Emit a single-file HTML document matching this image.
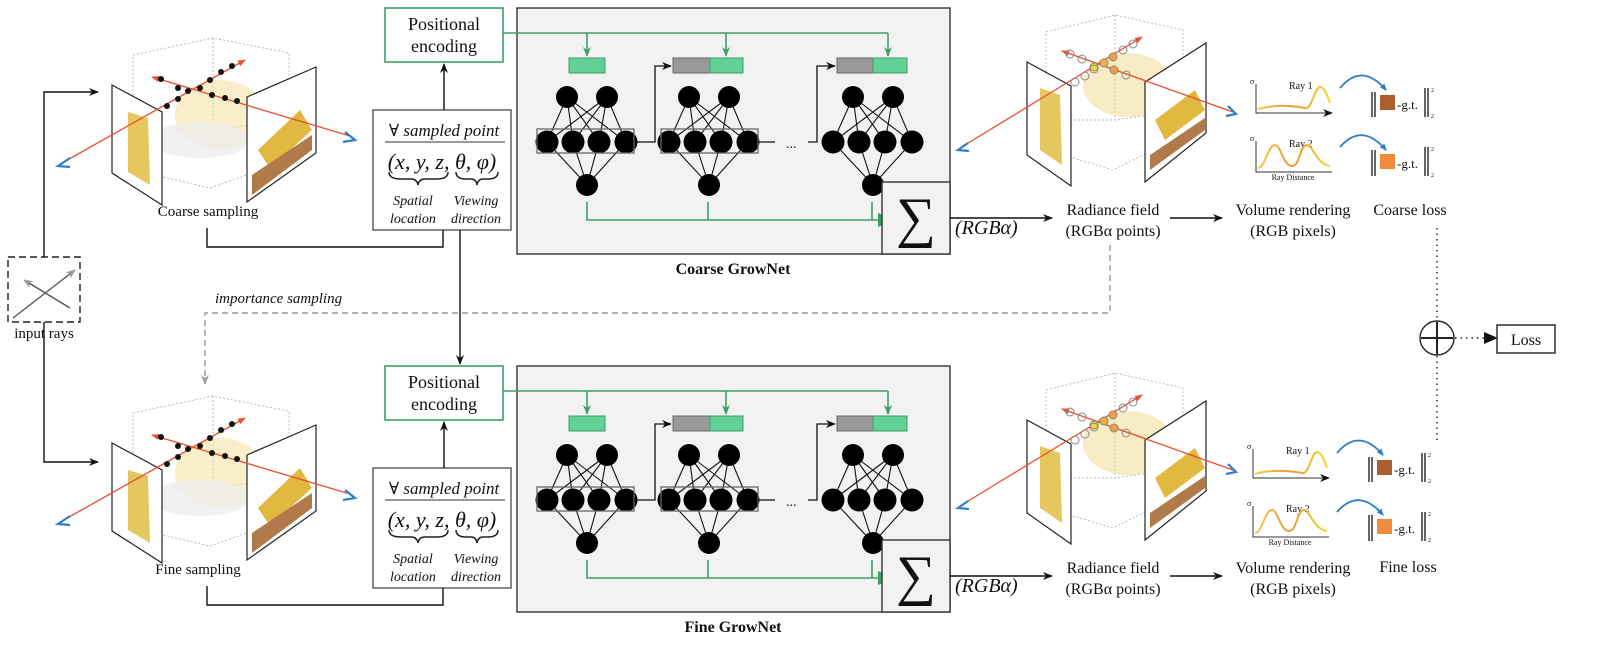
<!DOCTYPE html>
<html><head><meta charset="utf-8"><style>
html,body{margin:0;padding:0;background:#fff}
svg{display:block}
text{font-family:"Liberation Serif","DejaVu Serif",serif;fill:#111}
</style></head><body>
<svg width="1600" height="652" viewBox="0 0 1600 652" xmlns="http://www.w3.org/2000/svg">
<defs>
<marker id="ab" markerWidth="10" markerHeight="8" refX="9" refY="4" orient="auto" markerUnits="userSpaceOnUse"><path d="M0,0 L10,4 L0,8 L3,4 Z" fill="#111"/></marker>
<marker id="ag" markerWidth="10" markerHeight="8" refX="9" refY="4" orient="auto" markerUnits="userSpaceOnUse"><path d="M0,0 L10,4 L0,8 L3,4 Z" fill="#3f9e68"/></marker>
<marker id="agb" markerWidth="16" markerHeight="14" refX="15" refY="7" orient="auto" markerUnits="userSpaceOnUse"><path d="M0,0 L16,7 L0,14 Z" fill="#3f9e68"/></marker>
<marker id="agr" markerWidth="10" markerHeight="8" refX="9" refY="4" orient="auto" markerUnits="userSpaceOnUse"><path d="M0,0 L10,4 L0,8 L3,4 Z" fill="#999"/></marker>
<marker id="ar" markerWidth="8" markerHeight="6" refX="7" refY="3" orient="auto" markerUnits="userSpaceOnUse"><path d="M0,0 L8,3 L0,6 Z" fill="#e8502e"/></marker>
<marker id="abl" markerWidth="7" markerHeight="6" refX="6" refY="3" orient="auto" markerUnits="userSpaceOnUse"><path d="M0,0 L7,3 L0,6 Z" fill="#2f7fc8"/></marker>
<marker id="atri" markerWidth="14" markerHeight="12" refX="13" refY="6" orient="auto" markerUnits="userSpaceOnUse"><path d="M0,0 L14,6 L0,12 Z" fill="#111"/></marker>
<linearGradient id="yl" x1="0" x2="1"><stop offset="0" stop-color="#f3c94a"/><stop offset="0.5" stop-color="#e99a3a"/><stop offset="1" stop-color="#eedc2a"/></linearGradient>
</defs>

<g id="half">
  <g stroke="#bbb" stroke-dasharray="2,2" fill="none" stroke-width="1">
    <path d="M133,55 L213,38 L289,53 L289,160 L210,188 L133,170 Z M213,38 L213,130 M133,130 L213,130 L289,120"/>
  </g>
  <ellipse cx="220" cy="115" rx="45" ry="35" fill="#f0d98a" opacity="0.45"/>
  <ellipse cx="200" cy="140" rx="50" ry="18" fill="#eee" opacity="0.8"/>
  <polygon points="112,85 162,112 162,205 112,173" fill="#fff" stroke="#222" stroke-width="1.2"/>
  <polygon points="128,112 148,118 150,185 128,172" fill="#e5c760"/>
  <polygon points="247,97 316,67 316,153 247,202" fill="#fff" stroke="#222" stroke-width="1.2"/>
  <polygon points="258,150 300,110 312,130 270,168" fill="#e1b840"/>
  <polygon points="252,175 312,135 312,150 252,195" fill="#b07a4a"/>
  <line x1="62" y1="163" x2="245" y2="60" stroke="#e8502e" stroke-width="1.3" marker-end="url(#ar)"/>
  <line x1="350" y1="136" x2="152" y2="77" stroke="#e8502e" stroke-width="1.3" marker-end="url(#ar)"/>
  <g fill="#111">
    <circle cx="161" cy="79" r="3"/><circle cx="178" cy="88" r="3"/><circle cx="188" cy="91" r="3"/><circle cx="200" cy="88" r="3"/><circle cx="212" cy="95" r="3"/><circle cx="225" cy="98" r="3"/><circle cx="237" cy="101" r="3"/>
    <circle cx="167" cy="106" r="3"/><circle cx="178" cy="99" r="3"/><circle cx="210" cy="80" r="3"/><circle cx="221" cy="72" r="3"/><circle cx="232" cy="66" r="3"/>
  </g>
  <path d="M70,158 L58,166 L70,167" fill="none" stroke="#2f7fc8" stroke-width="2.2"/>
  <path d="M345,132 L355,140 L343,142" fill="none" stroke="#2f7fc8" stroke-width="2.2"/>
  <rect x="385" y="8" width="118" height="54" fill="#fff" stroke="#3f9e68" stroke-width="1.6"/>
  <rect x="373" y="110" width="138" height="120" fill="#fff" stroke="#555" stroke-width="1.4"/>
  <text x="444" y="136" font-size="17" text-anchor="middle" font-style="italic">∀ sampled point</text>
  <line x1="385" y1="142" x2="505" y2="142" stroke="#333" stroke-width="1"/>
  <text x="442" y="169" font-size="22" text-anchor="middle" font-style="italic">(x, y, z, θ, φ)</text>
  <path d="M389,172 q0,7 12,7 h10 q6,0 7,6 q1,-6 7,-6 h12 q11,0 11,-7" fill="none" stroke="#222" stroke-width="1.5"/>
  <path d="M456,172 q0,7 10,7 h5 q5,0 6,6 q1,-6 6,-6 h5 q10,0 10,-7" fill="none" stroke="#222" stroke-width="1.5"/>
  <text x="413" y="205" font-size="14" text-anchor="middle" font-style="italic">Spatial</text>
  <text x="413" y="223" font-size="14" text-anchor="middle" font-style="italic">location</text>
  <text x="476" y="205" font-size="14" text-anchor="middle" font-style="italic">Viewing</text>
  <text x="476" y="223" font-size="14" text-anchor="middle" font-style="italic">direction</text>
  <line x1="444" y1="110" x2="444" y2="64" stroke="#111" stroke-width="1.4" marker-end="url(#ab)"/>
  <path d="M207,228 V247 H443 V230" fill="none" stroke="#111" stroke-width="1.4"/>
  <rect x="517" y="8" width="433" height="246" fill="#f2f2f2" stroke="#333" stroke-width="1.4"/>
  <path d="M503,33 H888" fill="none" stroke="#3f9e68" stroke-width="1.6"/>
  <g stroke="#3f9e68" stroke-width="1.6"><line x1="587" y1="33" x2="587" y2="56" marker-end="url(#ag)"/><line x1="726" y1="33" x2="726" y2="56" marker-end="url(#ag)"/><line x1="888" y1="33" x2="888" y2="56" marker-end="url(#ag)"/></g>
  <rect x="569" y="58" width="36" height="15" fill="#62d196" stroke="#3f9e68"/>
  <rect x="673" y="58" width="37" height="15" fill="#999" stroke="#666"/><rect x="710" y="58" width="33" height="15" fill="#62d196" stroke="#3f9e68"/>
  <rect x="837" y="58" width="36" height="15" fill="#999" stroke="#666"/><rect x="873" y="58" width="34" height="15" fill="#62d196" stroke="#3f9e68"/>
  <g id="net">
    <g stroke="#111" stroke-width="1.1">
      <path d="M567,97 L547,142 M567,97 L573,142 M567,97 L599,142 M567,97 L626,142 M607,97 L547,142 M607,97 L573,142 M607,97 L599,142 M607,97 L626,142 M587,185 L547,142 M587,185 L573,142 M587,185 L599,142 M587,185 L626,142"/>
    </g>
    <g fill="#000"><circle cx="567" cy="97" r="11"/><circle cx="607" cy="97" r="11"/><circle cx="547" cy="142" r="11.5"/><circle cx="573" cy="142" r="11.5"/><circle cx="599" cy="142" r="11.5"/><circle cx="626" cy="142" r="11.5"/><circle cx="587" cy="185" r="11"/></g>
  </g>
  <use href="#net" transform="translate(122,0)"/>
  <use href="#net" transform="translate(286,0)"/>
  <rect x="537" y="129" width="97" height="24" fill="none" stroke="#666" stroke-width="1.3"/>
  <rect x="661" y="129" width="97" height="24" fill="none" stroke="#666" stroke-width="1.3"/>
  <path d="M634,142 H655 V66 H671" fill="none" stroke="#111" stroke-width="1.3" marker-end="url(#ab)"/>
  <path d="M758,142 H775" stroke="#111" stroke-width="1.3"/>
  <text x="786" y="148" font-size="14">...</text>
  <path d="M808,142 H817 V66 H835" fill="none" stroke="#111" stroke-width="1.3" marker-end="url(#ab)"/>
  <g stroke="#3f9e68" stroke-width="1.6" fill="none"><path d="M587,202 V220 H893" marker-end="url(#agb)"/><path d="M708,202 V220 M872,202 V220"/></g>
  <rect x="882" y="182" width="68" height="72" fill="#f2f2f2" stroke="#333" stroke-width="1.4"/>
  <text x="916" y="236" font-size="56" text-anchor="middle">∑</text>
  <text x="955" y="234" font-size="20" font-style="italic" fill="#333">(RGBα)</text>
  <line x1="950" y1="218" x2="1052" y2="218" stroke="#111" stroke-width="1.4" marker-end="url(#ab)"/>
  <g stroke="#bbb" stroke-dasharray="2,2" fill="none"><path d="M1046,32 L1115,15 L1183,30 L1183,135 L1113,170 L1046,150 Z M1115,15 V120 M1046,120 L1115,120 L1183,110"/></g>
  <ellipse cx="1128" cy="85" rx="45" ry="32" fill="#f0d98a" opacity="0.5"/>
  <polygon points="1027,62 1071,86 1071,186 1027,155" fill="#fff" stroke="#222" stroke-width="1.2"/>
  <polygon points="1040,88 1060,95 1062,165 1040,150" fill="#e5c760"/>
  <polygon points="1145,82 1206,43 1206,133 1145,182" fill="#fff" stroke="#222" stroke-width="1.2"/>
  <polygon points="1155,120 1195,90 1205,110 1165,140" fill="#e1b840"/>
  <polygon points="1150,155 1205,118 1205,130 1150,170" fill="#b07a4a"/>
  <line x1="960" y1="148" x2="1142" y2="37" stroke="#e8502e" stroke-width="1.3" marker-end="url(#ar)"/>
  <line x1="1233" y1="112" x2="1062" y2="51" stroke="#e8502e" stroke-width="1.3" marker-end="url(#ar)"/>
  <g fill="none" stroke="#888" stroke-width="1"><circle cx="1070" cy="54" r="4"/><circle cx="1082" cy="59" r="4"/><circle cx="1094" cy="67" r="4" fill="#eedd33"/><circle cx="1104" cy="63" r="4" fill="#f0b040"/><circle cx="1114" cy="70" r="4" fill="#f0a040"/><circle cx="1126" cy="75" r="4"/><circle cx="1075" cy="82" r="4"/><circle cx="1085" cy="76" r="4"/><circle cx="1094" cy="69" r="4"/><circle cx="1113" cy="57" r="4" fill="#f0a040"/><circle cx="1123" cy="50" r="4"/><circle cx="1133" cy="44" r="4"/></g>
  <path d="M968,143 L958,150 L969,151" fill="none" stroke="#2f7fc8" stroke-width="2.2"/>
  <path d="M1228,106 L1236,114 L1226,116" fill="none" stroke="#2f7fc8" stroke-width="2.2"/>
  <text x="1113" y="215" font-size="16" text-anchor="middle">Radiance field</text>
  <text x="1113" y="236" font-size="16" text-anchor="middle">(RGBα points)</text>
  <line x1="1170" y1="218" x2="1222" y2="218" stroke="#111" stroke-width="1.4" marker-end="url(#ab)"/>
  <text x="1293" y="215" font-size="16" text-anchor="middle">Volume rendering</text>
  <text x="1293" y="236" font-size="16" text-anchor="middle">(RGB pixels)</text>
</g>
<g id="charts">
  <g stroke="#333" stroke-width="1" fill="none">
    <path d="M1256,84 V113 H1332" marker-end="url(#ab)"/><path d="M1256,141 V172 H1332"/>
  </g>
  <text x="1250" y="84" font-size="8">σ</text><text x="1250" y="141" font-size="8">σ</text>
  <text x="1289" y="89" font-size="10" fill="#444">Ray 1</text>
  <text x="1289" y="147" font-size="10" fill="#444">Ray 2</text>
  <text x="1293" y="180" font-size="8" fill="#444" text-anchor="middle">Ray Distance</text>
  <path d="M1258,109 C1275,104 1295,106 1305,108 C1312,110 1314,88 1320,87 C1325,87 1328,98 1330,103" fill="none" stroke="url(#yl)" stroke-width="2"/>
  <path d="M1258,168 C1265,168 1268,145 1275,145 C1281,145 1283,166 1292,166 C1300,166 1300,145 1307,145 C1313,145 1316,164 1330,166" fill="none" stroke="url(#yl)" stroke-width="2"/>
  <path d="M1340,88 Q1362,62 1386,90" fill="none" stroke="#2f7fc8" stroke-width="1.8" marker-end="url(#abl)"/>
  <path d="M1340,147 Q1362,122 1386,150" fill="none" stroke="#2f7fc8" stroke-width="1.8" marker-end="url(#abl)"/>
  <g stroke="#222" stroke-width="1.4"><path d="M1372,92 V117 M1375,92 V117 M1425,88 V117 M1428,88 V117 M1372,150 V176 M1375,150 V176 M1425,147 V176 M1428,147 V176"/></g>
  <rect x="1380" y="95" width="15" height="15" fill="#a9602e"/><rect x="1380" y="154" width="15" height="15" fill="#f08a3c"/>
  <text x="1397" y="109" font-size="13" fill="#333">-g.t.</text><text x="1397" y="168" font-size="13" fill="#333">-g.t.</text>
  <text x="1431" y="92" font-size="6">2</text><text x="1431" y="118" font-size="6">2</text>
  <text x="1431" y="151" font-size="6">2</text><text x="1431" y="177" font-size="6">2</text>
</g>
<use href="#half" transform="translate(0,358)"/>
<use href="#charts" transform="translate(-3,365)"/>

<g font-size="18" text-anchor="middle"><text x="444" y="30">Positional</text><text x="444" y="52">encoding</text><text x="444" y="388">Positional</text><text x="444" y="410">encoding</text></g>
<text x="208" y="216" font-size="15" text-anchor="middle">Coarse sampling</text>
<text x="198" y="574" font-size="15" text-anchor="middle">Fine sampling</text>
<text x="733" y="274" font-size="16" font-weight="bold" text-anchor="middle">Coarse GrowNet</text>
<text x="733" y="632" font-size="16" font-weight="bold" text-anchor="middle">Fine GrowNet</text>
<text x="1410" y="215" font-size="16" text-anchor="middle">Coarse loss</text>
<text x="1408" y="572" font-size="16" text-anchor="middle">Fine loss</text>
<rect x="8" y="257" width="72" height="65" fill="none" stroke="#222" stroke-width="1.4" stroke-dasharray="7,4"/>
<line x1="13" y1="318" x2="75" y2="270" stroke="#555" stroke-width="1.4" marker-end="url(#agr)"/>
<line x1="70" y1="308" x2="24" y2="280" stroke="#555" stroke-width="1.4" marker-end="url(#agr)"/>
<text x="44" y="338" font-size="15" text-anchor="middle">input rays</text>
<path d="M44,257 V92 H98" fill="none" stroke="#111" stroke-width="1.4" marker-end="url(#ab)"/>
<path d="M44,322 V462 H98" fill="none" stroke="#111" stroke-width="1.4" marker-end="url(#ab)"/>
<line x1="460" y1="230" x2="460" y2="364" stroke="#111" stroke-width="1.4" marker-end="url(#ab)"/>
<path d="M1110,245 V313 H205 V384" fill="none" stroke="#999" stroke-width="1.4" stroke-dasharray="6,4" marker-end="url(#agr)"/>
<text x="215" y="303" font-size="15" font-style="italic" fill="#777">importance sampling</text>
<line x1="1437" y1="228" x2="1437" y2="320" stroke="#222" stroke-width="1.4" stroke-dasharray="1.5,4"/>
<line x1="1437" y1="356" x2="1437" y2="440" stroke="#222" stroke-width="1.4" stroke-dasharray="1.5,4"/>
<circle cx="1437" cy="338" r="17" fill="#fff" stroke="#222" stroke-width="1.4"/>
<path d="M1421,338 H1453 M1437,322 V354" stroke="#222" stroke-width="2"/>
<line x1="1455" y1="338" x2="1497" y2="338" stroke="#222" stroke-width="1.4" stroke-dasharray="1.5,4" marker-end="url(#atri)"/>
<rect x="1497" y="325" width="58" height="28" fill="#fff" stroke="#222" stroke-width="1.4"/>
<text x="1526" y="345" font-size="16" text-anchor="middle">Loss</text>
</svg>
</body></html>
